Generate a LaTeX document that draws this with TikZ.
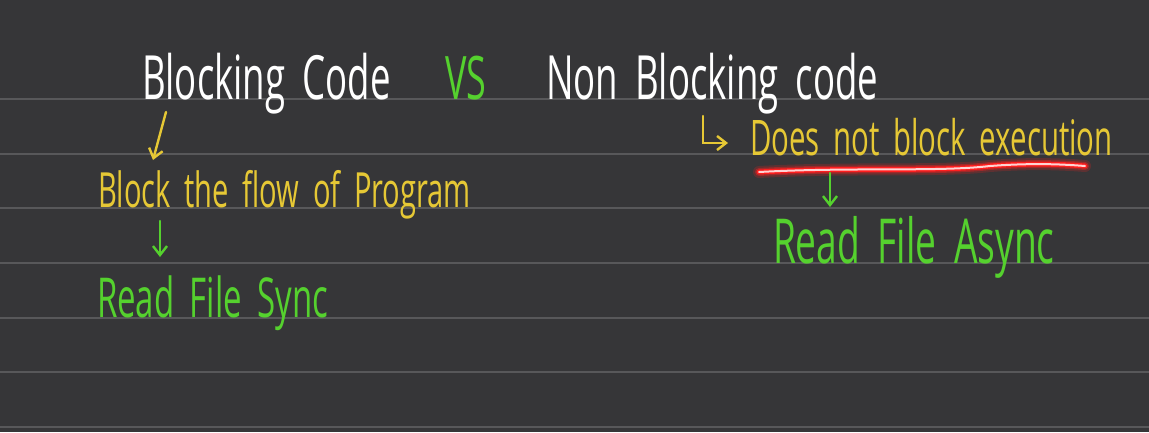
\documentclass[tikz,border=0pt]{standalone}
\usepackage{fontspec}
\setmainfont{Open Sans}[FakeStretch=0.6, WordSpace=1.8]
\usetikzlibrary{arrows.meta}

\definecolor{boardbg}{HTML}{363638}
\definecolor{ruleline}{HTML}{58585A}
\definecolor{chalkyellow}{HTML}{E6C835}
\definecolor{chalkgreen}{HTML}{55D12E}
\definecolor{glowred}{HTML}{FF1E1E}

\begin{document}
\begin{tikzpicture}[
  x=1pt, y=-1pt,
  word/.style={anchor=base west, inner sep=0pt, outer sep=0pt},
  head_text/.style={word, text=white, font=\fontsize{61}{64}\selectfont},
  vs_text/.style={word, text=chalkgreen, font=\fontsize{60}{64}\selectfont},
  note_yellow/.style={word, text=chalkyellow, font=\fontsize{48.5}{52}\selectfont},
  note_green/.style={word, text=chalkgreen, font=\fontsize{55}{58}\selectfont},
  arrow_yellow/.style={-{Straight Barb[length=9pt, width=14pt]}, draw=chalkyellow, line width=2.4pt, line cap=round},
  arrow_green/.style={-{Straight Barb[length=9pt, width=14pt]}, draw=chalkgreen, line width=2.4pt, line cap=round},
  rule_line/.style={draw=ruleline, line width=2pt}
]

% Board and ruled lines
\fill[boardbg] (0,0) rectangle (1149,432);
\useasboundingbox (0,0) rectangle (1149,432);
\foreach \y in {99,154,208,263,318,372,427} {
  \draw[rule_line] (0,\y) -- (1149,\y);
}

% --- Heading ---
\node[head_text] (blk) at (142,99) {Blocking Code};
\node[vs_text] (vs) at (445,99) {VS};
\node[head_text] (nonblk) at (546,99) {Non Blocking code};

% --- Blocking side ---
\node[note_yellow] (flow) at (98,207) {Block the flow of Program};
\node[note_green] (sync) at (97,317) {Read File Sync};

\draw[arrow_yellow] ([shift={(24,13)}]blk.base west) -- ([shift={(55,-47)}]flow.base west);
\draw[arrow_green] ([shift={(62,14)}]flow.base west) -- ([shift={(63,-60)}]sync.base west);

% --- Non blocking side ---
\node[note_yellow, font=\fontsize{49}{52}\selectfont] (nobl) at (750,155) {Does not block execution};
\node[note_green, font=\fontsize{62}{66}\selectfont] (async) at (773,263) {Read File Async};

\draw[arrow_yellow] ([shift={(157,17)}]nonblk.base west) |- ([shift={(-22,-12)}]nobl.base west);

% red underline with glow
\coordinate (ul1) at ([shift={(9,17)}]nobl.base west);
\coordinate (ul2) at ([shift={(335,11)}]nobl.base west);
\foreach \w/\o in {12pt/0.2,8pt/0.4,5pt/1} {
  \draw[glowred, line width=\w, opacity=\o, line cap=round]
    (ul1) .. controls (850,167) and (940,172) .. (990,166) .. controls (1030,163) and (1060,164) .. (ul2);
}
\draw[glowred!20!white, line width=2pt, line cap=round]
  (ul1) .. controls (850,167) and (940,172) .. (990,166) .. controls (1030,163) and (1060,164) .. (ul2);

\draw[arrow_green] ([shift={(80,18)}]nobl.base west) -- ([shift={(57,-56)}]async.base west);

\end{tikzpicture}
\end{document}
